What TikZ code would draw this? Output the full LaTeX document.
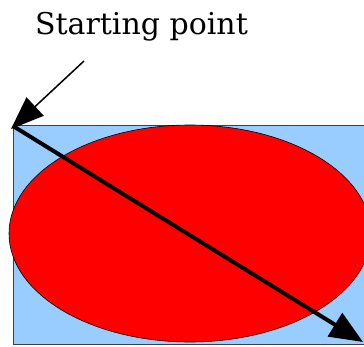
\documentclass[tikz,border=0pt]{standalone}
\usepackage{fontspec}
\setmainfont{DejaVu Serif}
\usetikzlibrary{arrows.meta}

\definecolor{paleblue}{HTML}{99CCFF}
\definecolor{fillred}{HTML}{FF0000}

\begin{document}
\begin{tikzpicture}[x=1pt,y=-1pt]
\useasboundingbox (0,0) rectangle (364,347);
\clip (0,0) rectangle (364,347);
\fill[paleblue, draw=black!75, line width=1pt] (13,126) rectangle (372,344);
\filldraw[fill=fillred, draw=black, line width=0.6pt] (190,233.5) ellipse[x radius=181, y radius=108.5];
\coordinate (start) at (13,126);
\coordinate (stop) at (363,342);
\coordinate (tail) at (84,61);
\node[anchor=base, inner sep=0pt, font=\fontsize{30pt}{32pt}\selectfont] (label) at (141.5,34.3) {Starting point};
\draw[line width=4pt, -{Triangle[length=33pt,width=27pt]}] (start) -- (stop);
\draw[line width=1.5pt, -{Triangle[length=33pt,width=25pt]}] (tail) -- (11,129);
\end{tikzpicture}
\end{document}
